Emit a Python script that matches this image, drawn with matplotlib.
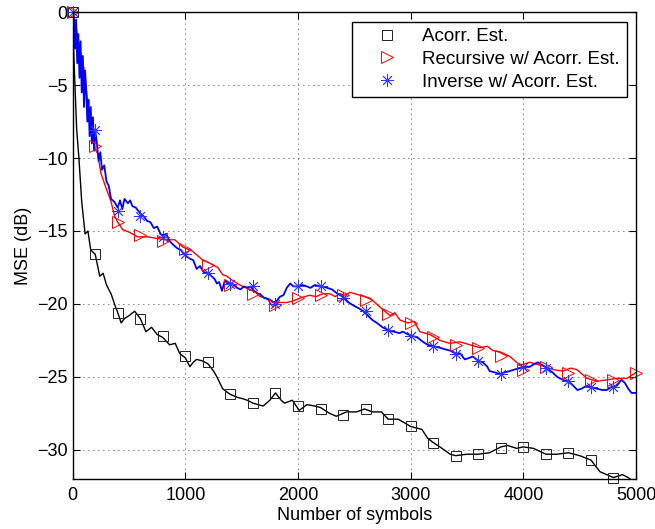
import matplotlib
matplotlib.use("Agg")
import matplotlib.pyplot as plt

plt.rcParams['font.family'] = ['Liberation Sans', 'DejaVu Sans']

# Acorr. Est. (black)
acorr_x = [0, 10, 20, 35, 55, 80, 110, 135, 160, 200,
           240, 270, 300, 340, 380, 400, 430, 460, 500, 550,
           600, 650, 700, 750, 800, 860, 910, 950, 1000, 1040,
           1070, 1100, 1150, 1200, 1250, 1280, 1330, 1380, 1400, 1460,
           1510, 1550, 1600, 1690, 1750, 1800, 1850, 1880, 1950, 2010,
           2080, 2150, 2200, 2280, 2340, 2430, 2520, 2590, 2660, 2740,
           2800, 2890, 3000, 3100, 3150, 3200, 3260, 3350, 3400, 3500,
           3600, 3700, 3800, 3860, 3940, 4000, 4090, 4200, 4300, 4400,
           4500, 4600, 4680, 4740, 4800, 4880, 4930, 5000]
acorr_y = [0, -3.0, -5.0, -8.0, -10.0, -13.0, -15.2, -15.0, -16.3, -16.6,
           -18.1, -17.9, -18.7, -19.3, -20.2, -20.6, -21.3, -21.0, -20.8, -20.5,
           -21.0, -21.9, -21.6, -22.1, -22.3, -22.8, -22.7, -23.4, -23.7, -24.3,
           -24.0, -23.8, -23.9, -24.1, -24.6, -25.0, -25.8, -26.1, -26.2, -26.4,
           -26.5, -26.6, -26.8, -27.0, -26.6, -26.1, -26.6, -26.8, -26.6, -27.3,
           -26.9, -27.0, -27.1, -27.5, -27.7, -27.4, -27.4, -27.2, -27.4, -27.4,
           -27.9, -27.9, -28.4, -28.6, -29.2, -29.5, -29.8, -30.3, -30.4, -30.3,
           -30.3, -30.2, -29.8, -29.7, -29.9, -29.8, -29.9, -30.3, -30.3, -30.2,
           -30.4, -30.7, -31.5, -31.7, -31.9, -31.7, -31.9, -32.3]

# Recursive w/ Acorr. Est. (red)
rec_x = [0, 30, 60, 107, 133, 178, 200, 222, 249, 293,
         337, 373, 400, 444, 506, 577, 666, 737, 817, 906,
         977, 1066, 1155, 1190, 1288, 1332, 1368, 1421, 1483, 1510,
         1572, 1634, 1661, 1723, 1777, 1812, 1901, 1954, 2017, 2104,
         2160, 2220, 2282, 2330, 2371, 2420, 2460, 2549, 2638, 2726,
         2815, 2860, 2904, 2975, 3030, 3082, 3171, 3260, 3348, 3437,
         3526, 3615, 3680, 3730, 3800, 3881, 3970, 4058, 4147, 4200,
         4263, 4352, 4420, 4476, 4565, 4654, 4743, 4831, 4920, 5000]
rec_y = [0, -1.0, -2.5, -4.1, -6.2, -8.6, -9.4, -9.7, -11.0, -12.0,
         -12.9, -14.0, -14.4, -14.9, -15.1, -15.4, -15.4, -15.5, -15.6, -15.6,
         -16.1, -16.4, -17.0, -17.1, -17.5, -18.0, -18.1, -18.4, -18.7, -18.8,
         -19.0, -19.2, -19.5, -19.6, -20.2, -19.9, -19.9, -19.8, -19.6, -19.4,
         -19.5, -19.3, -19.3, -19.5, -19.3, -19.4, -19.2, -19.4, -19.6, -20.2,
         -20.8, -20.6, -21.1, -21.3, -21.2, -21.9, -22.1, -22.5, -22.7, -22.6,
         -22.8, -23.0, -22.9, -23.2, -23.3, -23.6, -24.2, -24.0, -24.2, -24.3,
         -24.5, -24.6, -24.4, -24.5, -25.1, -25.3, -25.2, -25.1, -25.1, -24.7]

# Inverse w/ Acorr. Est. (blue)
inv_x = [0, 10, 20, 30, 40, 50, 60, 70, 80, 90,
         100, 110, 120, 130, 140, 150, 160, 170, 180, 190,
         200, 215, 230, 245, 260, 280, 300, 320, 340, 370,
         400, 420, 440, 460, 490, 510, 530, 560, 600, 630,
         660, 690, 720, 750, 780, 800, 830, 860, 900, 930,
         960, 1000, 1040, 1070, 1100, 1130, 1160, 1190, 1220, 1260,
         1280, 1300, 1325, 1350, 1375, 1400, 1430, 1460, 1490, 1520,
         1550, 1580, 1610, 1640, 1660, 1700, 1750, 1780, 1810, 1840,
         1870, 1900, 1930, 1960, 2000, 2040, 2080, 2110, 2150, 2190,
         2220, 2260, 2300, 2350, 2400, 2450, 2490, 2540, 2580, 2620,
         2660, 2700, 2750, 2800, 2850, 2900, 2930, 2980, 3020, 3060,
         3110, 3150, 3200, 3260, 3300, 3350, 3400, 3440, 3480, 3520,
         3550, 3600, 3640, 3680, 3700, 3750, 3790, 3830, 3880, 3920,
         3970, 4000, 4060, 4100, 4130, 4170, 4210, 4260, 4300, 4350,
         4390, 4430, 4480, 4520, 4560, 4600, 4650, 4700, 4740, 4780,
         4830, 4870, 4900, 4930, 4960, 5000]
inv_y = [0, -0.3, -2.5, -0.5, -3.5, -1.5, -4.5, -2.0, -5.5, -3.0,
         -6.5, -4.0, -5.5, -7.5, -6.0, -8.5, -6.5, -9.0, -7.2, -9.5,
         -8.1, -9.0, -10.2, -9.6, -10.8, -10.5, -11.6, -11.9, -12.8, -13.0,
         -13.4, -12.9, -13.5, -12.8, -13.1, -12.9, -13.3, -13.4, -13.8, -14.0,
         -14.3, -14.4, -14.8, -14.7, -15.2, -15.3, -15.2, -15.7, -16.0, -16.2,
         -16.3, -16.7, -16.9, -17.0, -17.6, -17.4, -17.8, -17.9, -18.0, -18.3,
         -18.6, -18.5, -19.1, -18.4, -18.6, -18.6, -18.7, -18.9, -19.0, -18.8,
         -18.9, -18.8, -19.1, -19.3, -19.3, -19.6, -19.7, -19.9, -19.8, -19.5,
         -19.4, -18.9, -18.6, -18.8, -18.8, -18.7, -18.8, -18.9, -18.7, -18.8,
         -18.8, -18.9, -19.0, -19.3, -19.5, -19.9, -20.1, -20.3, -20.5, -20.8,
         -21.1, -21.3, -21.6, -21.8, -21.9, -22.0, -21.9, -22.1, -22.2, -22.3,
         -22.6, -22.8, -22.9, -23.0, -23.1, -23.2, -23.4, -23.4, -23.8, -23.7,
         -23.6, -23.9, -24.0, -24.3, -24.6, -24.7, -24.8, -24.7, -24.6, -24.5,
         -24.4, -24.3, -24.3, -24.1, -24.0, -24.2, -24.4, -24.7, -25.0, -25.2,
         -25.3, -25.5, -25.9, -25.8, -25.6, -25.7, -25.8, -25.9, -25.9, -25.7,
         -25.6, -25.2, -25.4, -25.8, -26.1, -26.1]

# marker positions (every 200 symbols)
mark_x = [0, 200, 400, 600, 800, 1000, 1200, 1400, 1600, 1800,
          2000, 2200, 2400, 2600, 2800, 3000, 3200, 3400, 3600, 3800,
          4000, 4200, 4400, 4600, 4800, 5000]
acorr_mark = [0, -16.6, -20.6, -21.0, -22.2, -23.6, -24.0, -26.2, -26.8, -26.1,
              -27.0, -27.2, -27.6, -27.2, -27.9, -28.4, -29.5, -30.4, -30.3, -29.9,
              -29.8, -30.3, -30.2, -30.7, -31.9]
rec_mark = [0, -9.2, -14.4, -15.3, -15.7, -16.2, -17.3, -18.7, -19.3, -20.1,
            -19.6, -19.4, -19.4, -19.7, -20.7, -21.3, -22.3, -22.8, -23.0, -23.6,
            -24.5, -24.3, -24.7, -25.2, -25.2, -24.7]
inv_mark = [0, -8.1, -13.6, -14.0, -15.4, -16.6, -17.9, -18.6, -18.8, -20.0,
            -18.8, -18.8, -19.6, -20.5, -21.8, -22.2, -22.9, -23.4, -23.9, -24.8,
            -24.3, -24.4, -25.3, -25.7, -25.7]

fig = plt.figure(figsize=(6.55, 5.29), dpi=100)
ax = fig.add_axes([0.111, 0.0945, 0.860, 0.8825])

ax.plot(acorr_x, acorr_y, color='k', lw=1.0)
ax.plot(rec_x, rec_y, color='r', lw=1.0)
ax.plot(inv_x, inv_y, color='b', lw=1.3)

h1, = ax.plot(mark_x[:len(acorr_mark)], acorr_mark, ls='none', marker='s', ms=7,
              mfc='none', mec='#222222', mew=0.7, clip_on=False, label='Acorr. Est.')
h2, = ax.plot(mark_x[:len(rec_mark)], rec_mark, ls='none', marker='>', ms=8,
              mfc='none', mec='r', mew=0.7, clip_on=False, label='Recursive w/ Acorr. Est.')
h3, = ax.plot(mark_x[:len(inv_mark)], inv_mark, ls='none', marker=(8, 2, 0), ms=9,
              mfc='none', mec='#3333ff', mew=0.6, clip_on=False, label='Inverse w/ Acorr. Est.')

ax.set_xlim(0, 5000)
ax.set_ylim(-32, 0)
ax.set_xticks([0, 1000, 2000, 3000, 4000, 5000])
ax.set_yticks([-30, -25, -20, -15, -10, -5, 0])
ax.tick_params(direction='in', top=True, right=True, length=5, labelsize=13)
ax.tick_params(axis='x', pad=6)
ax.grid(True, color='k', ls=(0, (1, 5)), lw=0.6)
for s in ax.spines.values():
    s.set_linewidth(1.0)

ax.set_xlabel('Number of symbols', fontsize=13, labelpad=2)
ax.set_ylabel('MSE (dB)', fontsize=13)

leg = ax.legend(handles=[h1, h2, h3], loc='upper right', fontsize=13.5,
                fancybox=False, edgecolor='k', framealpha=1,
                borderaxespad=0.5, handlelength=3.0, handletextpad=0.4,
                labelspacing=0.3, borderpad=0.35)
leg.get_frame().set_linewidth(1.0)

fig.savefig('out.png', dpi=100)
